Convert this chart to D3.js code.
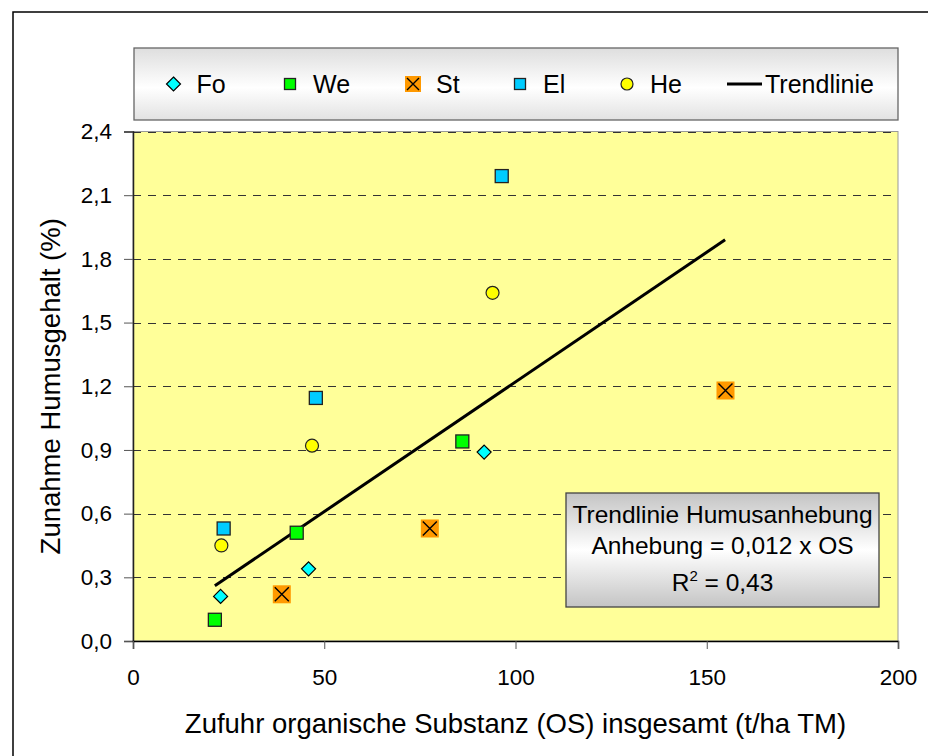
<!DOCTYPE html>
<html><head><meta charset="utf-8">
<script src="https://cdn.jsdelivr.net/npm/d3@7"></script>
<style>body{margin:0;background:#fff}svg{display:block}text{font-family:"Liberation Sans",Arial,sans-serif;fill:#000}</style>
</head><body><svg id="c" width="928" height="756"></svg>
<script>
const seriesNames = ["Fo","We","St","El","He"];
const foX = [22.9, 45.9, 91.8], foY = [0.21, 0.34, 0.89];
const weX = [21.4, 42.8, 86.1], weY = [0.10, 0.51, 0.94];
const stX = [38.9, 77.6, 154.9], stY = [0.22, 0.53, 1.18];
const elX = [23.7, 47.8, 96.4], elY = [0.53, 1.145, 2.19];
const heX = [23.1, 46.8, 94.0], heY = [0.45, 0.92, 1.64];
const trendX = [21.4, 154.8], trendY = [0.26, 1.89];
const xTicks = [0, 50, 100, 150, 200];
const yTicks = [0, 0.3, 0.6, 0.9, 1.2, 1.5, 1.8, 2.1, 2.4];
const annotation = ["Trendlinie Humusanhebung", "Anhebung = 0,012 x OS", "R2 = 0,43"];
const xTitle = "Zufuhr organische Substanz (OS) insgesamt (t/ha TM)";
const yTitle = "Zunahme Humusgehalt (%)";

const svg = d3.select("#c");
const L = 133, R = 898, T = 131.5, B = 641;
const x = d3.scaleLinear().domain([0, 200]).range([L, R]);
const y = d3.scaleLinear().domain([0, 2.4]).range([B, T]);
const fmt = d => d3.format(".1f")(d).replace(".", ",");

const defs = svg.append("defs");
const g1 = defs.append("linearGradient").attr("id","gLeg").attr("x1",0).attr("y1",0).attr("x2",0).attr("y2",1);
g1.append("stop").attr("offset","0%").attr("stop-color","#dedede");
g1.append("stop").attr("offset","55%").attr("stop-color","#ffffff");
g1.append("stop").attr("offset","100%").attr("stop-color","#e2e2e2");
const g2 = defs.append("linearGradient").attr("id","gAnn").attr("x1",0).attr("y1",0).attr("x2",0).attr("y2",1);
g2.append("stop").attr("offset","0%").attr("stop-color","#c4c4c4");
g2.append("stop").attr("offset","50%").attr("stop-color","#ffffff");
g2.append("stop").attr("offset","100%").attr("stop-color","#c4c4c4");

// outer border
svg.append("rect").attr("x",13).attr("y",12).attr("width",940).attr("height",800)
  .attr("fill","none").attr("stroke","#000").attr("stroke-width",1.5);

// plot area
svg.append("rect").attr("x",L).attr("y",T).attr("width",R-L).attr("height",B-T)
  .attr("fill","#FFFF99").attr("stroke","#999").attr("stroke-width",1);

// gridlines
svg.append("g").selectAll("line").data(yTicks.filter(d=>d>0)).join("line")
  .attr("x1",L).attr("x2",R).attr("y1",d=>Math.round(y(d))+0.5).attr("y2",d=>Math.round(y(d))+0.5)
  .attr("stroke","#333").attr("stroke-width",1).attr("stroke-dasharray","8,7");

// axes
const yAxis = d3.axisLeft(y).tickValues(yTicks).tickFormat(fmt).tickSize(9).tickPadding(12);
const gy = svg.append("g").attr("transform",`translate(${L},0)`).call(yAxis);
gy.select(".domain").attr("stroke","#222").attr("stroke-width",1.5);
gy.selectAll(".tick line").attr("stroke","#555");
gy.selectAll(".tick text").style("font-size","22.5px");

const xAxis = d3.axisBottom(x).tickValues(xTicks).tickFormat(d3.format("d")).tickSize(8).tickPadding(20);
const gx = svg.append("g").attr("transform",`translate(0,${B})`).call(xAxis);
gx.select(".domain").attr("stroke","#000").attr("stroke-width",1.5);
gx.selectAll(".tick line").attr("stroke","#555");
gx.selectAll(".tick text").style("font-size","22.5px");

// titles
svg.append("text").attr("x",(L+R)/2).attr("y",733).attr("text-anchor","middle")
  .style("font-size","27.5px").text(xTitle);
svg.append("text").attr("transform",`translate(60,${(T+B)/2}) rotate(-90)`).attr("text-anchor","middle")
  .style("font-size","27.5px").text(yTitle);

// trendline
svg.append("path").datum(trendX.map((v,i)=>[v,trendY[i]]))
  .attr("d", d3.line().x(d=>x(d[0])).y(d=>y(d[1])))
  .attr("stroke","#000").attr("stroke-width",3).attr("fill","none");

// marker drawers
function diamond(g, cx, cy, s){ g.append("path").attr("d",`M${cx},${cy-s}L${cx+s},${cy}L${cx},${cy+s}L${cx-s},${cy}Z`)
  .attr("fill","#00FFFF").attr("stroke","#000").attr("stroke-width",1.2); }
function square(g, cx, cy, s, col){ g.append("rect").attr("x",cx-s).attr("y",cy-s).attr("width",2*s).attr("height",2*s)
  .attr("fill",col).attr("stroke","#222").attr("stroke-width",1.3); }
function xmark(g, cx, cy, s){ g.append("rect").attr("x",cx-s).attr("y",cy-s).attr("width",2*s).attr("height",2*s).attr("fill","#FF9900");
  const k = s-2; g.append("path").attr("d",`M${cx-k},${cy-k}L${cx+k},${cy+k}M${cx+k},${cy-k}L${cx-k},${cy+k}`)
  .attr("stroke","#000").attr("stroke-width",1.4); }
function circle(g, cx, cy, r){ g.append("circle").attr("cx",cx).attr("cy",cy).attr("r",r)
  .attr("fill","#FFFF00").attr("stroke","#222").attr("stroke-width",1.2); }

const pg = svg.append("g");
foX.forEach((v,i)=>diamond(pg, x(v), y(foY[i]), 7));
weX.forEach((v,i)=>square(pg, x(v), y(weY[i]), 6.5, "#00FF00"));
stX.forEach((v,i)=>xmark(pg, x(v), y(stY[i]), 9));
elX.forEach((v,i)=>square(pg, x(v), y(elY[i]), 6.5, "#00CCFF"));
heX.forEach((v,i)=>circle(pg, x(v), y(heY[i]), 6.5));

// legend
const lg = svg.append("g");
lg.append("rect").attr("x",134).attr("y",48).attr("width",764).attr("height",72)
  .attr("fill","url(#gLeg)").attr("stroke","#666").attr("stroke-width",1.3);
const legX = [173.5, 290, 413, 520, 627];
const ly = 84;
diamond(lg, legX[0], ly, 7);
square(lg, legX[1], ly, 5.5, "#00FF00");
xmark(lg, legX[2], ly, 8);
square(lg, legX[3], ly, 5.5, "#00CCFF");
circle(lg, legX[4], ly, 6);
seriesNames.forEach((n,i)=>lg.append("text").attr("x",legX[i]+23).attr("y",ly+9).style("font-size","25px").text(n));
lg.append("line").attr("x1",727).attr("x2",762).attr("y1",ly).attr("y2",ly).attr("stroke","#000").attr("stroke-width",3);
lg.append("text").attr("x",765).attr("y",ly+9).style("font-size","25px").text("Trendlinie");

// annotation box
const ag = svg.append("g");
ag.append("rect").attr("x",566).attr("y",493).attr("width",313).attr("height",114)
  .attr("fill","url(#gAnn)").attr("stroke","#444").attr("stroke-width",1.3);
const acx = 722.5;
ag.append("text").attr("x",acx).attr("y",522.5).attr("text-anchor","middle").style("font-size","24.5px").text(annotation[0]);
ag.append("text").attr("x",acx).attr("y",554).attr("text-anchor","middle").style("font-size","24.5px").text(annotation[1]);
const t3 = ag.append("text").attr("x",acx).attr("y",591).attr("text-anchor","middle").style("font-size","24.5px");
t3.append("tspan").text("R");
t3.append("tspan").attr("dy",-10).style("font-size","15px").text("2");
t3.append("tspan").attr("dy",10).text(" = 0,43");
</script></body></html>
